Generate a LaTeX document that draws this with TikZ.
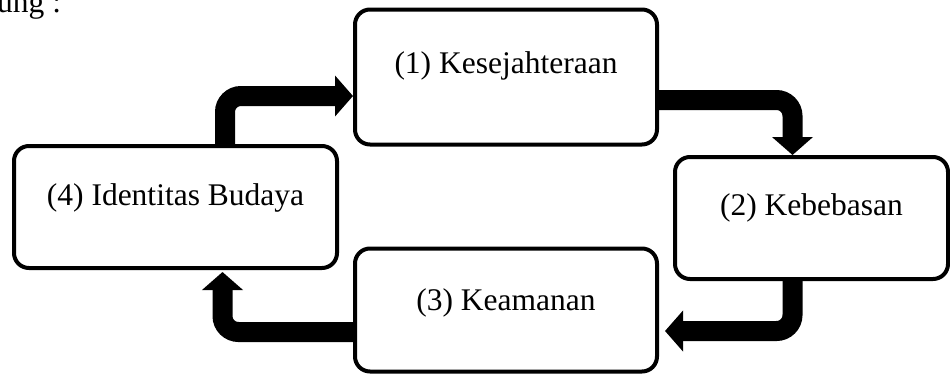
\documentclass[tikz,border=0pt]{standalone}
\usepackage{fontspec}
\setmainfont{Liberation Serif}
\usetikzlibrary{arrows.meta}
\begin{document}
\begin{tikzpicture}[x=1pt,y=-1pt,
  box/.style={draw=black,line width=4pt,rounded corners=15pt,inner sep=0pt,
    font=\fontsize{31.5}{36}\selectfont},
  flow/.style={line width=20pt,rounded corners=16pt,
    -{Triangle[width=40pt,length=18pt]}}]
\useasboundingbox (0,0) rectangle (950,373);
\node[anchor=base west,inner sep=0pt,font=\fontsize{31.5}{36}\selectfont] (hd) at (-3,12) {ung :};
\node[box,minimum width=302pt,text height=64pt,text depth=71pt] (b1) at (506,77) {(1) Kesejahteraan};
\node[box,minimum width=273pt,text height=58pt,text depth=64pt] (b2) at (811.5,218) {(2) Kebebasan};
\node[box,minimum width=302pt,text height=62pt,text depth=61pt] (b3) at (506,310) {(3) Keamanan};
\node[box,minimum width=323pt,text height=59pt,text depth=63pt] (b4) at (175.5,207) {(4) Identitas Budaya};
\draw[flow] (b4.north -| 225,0) |- ([yshift=-19pt]b1.west);
\draw[flow] ([yshift=-23pt]b1.east) -| ([xshift=-19pt]b2.north);
\draw[flow] ([xshift=-19pt]b2.south) |- ([xshift=6pt,yshift=-21pt]b3.east);
\draw[flow] ([yshift=-22pt]b3.west) -| ([xshift=47pt,yshift=-2pt]b4.south);
\end{tikzpicture}
\end{document}
